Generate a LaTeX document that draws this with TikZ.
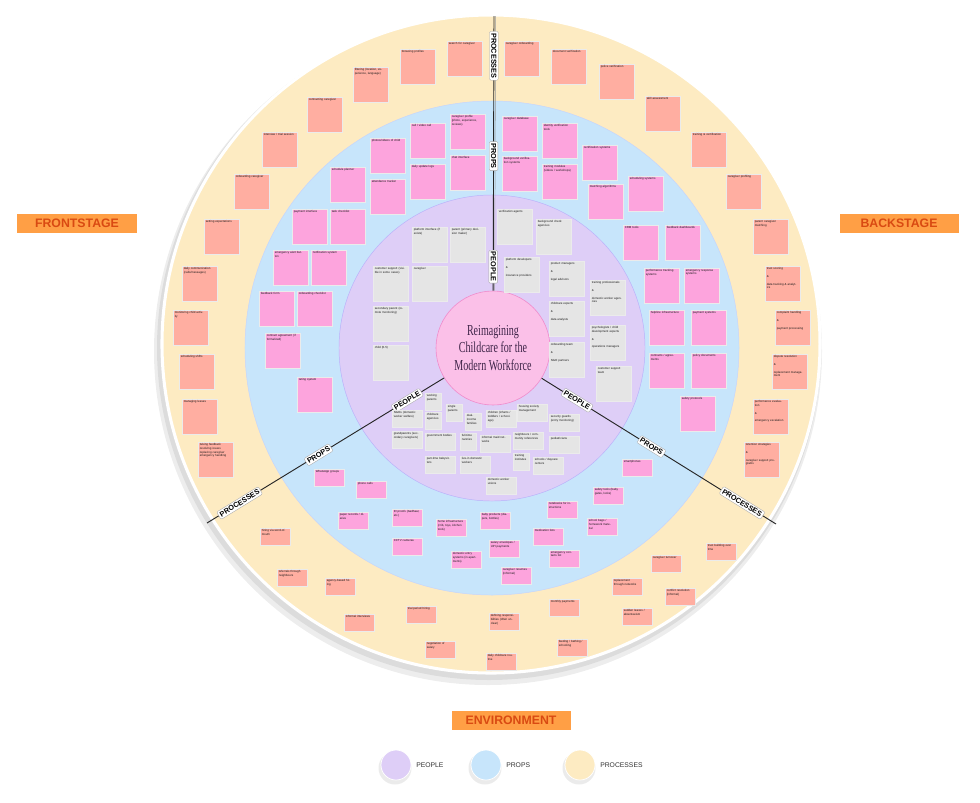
\documentclass[tikz,border=0pt]{standalone}
\usepackage{fontspec}
\setmainfont{Liberation Sans}
\setsansfont{Liberation Sans}
\newfontfamily\titlefont[FakeStretch=0.66]{Liberation Serif}
\usepackage{xcolor}
\usetikzlibrary{positioning}
\definecolor{ringproc}{RGB}{253,235,194}
\definecolor{ringprops}{RGB}{199,229,251}
\definecolor{ringpeople}{RGB}{222,206,247}
\definecolor{hubpink}{RGB}{251,192,232}
\definecolor{hubedge}{RGB}{240,138,203}
\definecolor{procnote}{RGB}{255,174,161}
\definecolor{propsnote}{RGB}{253,164,221}
\definecolor{peoplenote}{RGB}{229,229,229}
\definecolor{stagefill}{RGB}{255,159,69}
\definecolor{stagetext}{RGB}{217,74,18}
\definecolor{titleplum}{RGB}{62,36,72}

\tikzset{
  ring/.style={circle, inner sep=0pt},
  sticky/.style={draw=black!8, line width=0.15pt, anchor=north west, inner sep=0pt},
  bignote/.style={sticky, minimum width=1.05cm, minimum height=1.05cm},
  smallnote/.style={sticky, minimum width=0.9cm, minimum height=0.52cm},
  tinynote/.style={sticky, minimum width=0.48cm, minimum height=0.5cm},
  notetext/.style={anchor=north west, inner sep=1.3pt, align=left, text=black!90,
    font=\sffamily\fontsize{2.5}{3.1}\selectfont},
  axislabel/.style={draw=black!35, fill=white, line width=0.3pt, rounded corners=1pt,
    inner sep=1.5pt, font=\sffamily\bfseries\fontsize{6.2}{6.2}\selectfont},
  divider/.style={draw=black!85, line width=0.8pt},
  stagebox/.style={fill=stagefill, text=stagetext, minimum width=3.57cm, minimum height=0.57cm,
    inner sep=0pt, font=\sffamily\bfseries\fontsize{10.5}{10.5}\selectfont},
  legenddot/.style={circle, minimum size=0.9cm, inner sep=0pt, draw=white, line width=0.6pt},
  legendtext/.style={inner sep=0pt, text=black!80, font=\sffamily\fontsize{5.8}{5.8}\selectfont}
}

\begin{document}
\begin{tikzpicture}[x=0.03cm, y=-0.03cm]
  \useasboundingbox (0,0) rectangle (980,802);

  % rings
  \fill[black, opacity=0.07] (488,351) circle (334);
  \fill[black, opacity=0.07] (489,348) circle (332);
  \node[ring, fill=ringproc, draw=white, line width=2.6pt, minimum size=19.74cm] (procring) at (491,344) {};
  \node[ring, fill=ringprops, draw=ringprops!80!blue!60, line width=0.4pt, minimum size=14.82cm] (propsring) at (492,348) {};
  \node[ring, fill=ringpeople, draw=ringpeople!70!blue!70, line width=0.4pt, minimum size=9.18cm] (peoplering) at (492,348) {};
  \node[ring, fill=hubpink, draw=hubedge, line width=0.5pt, minimum size=3.42cm, align=center,
    text=titleplum, font=\titlefont\fontsize{13}{15}\selectfont] (hub) at (493,348)
    {Reimagining\\Childcare for the\\Modern Workforce};

  % dividers
  \coordinate (endT) at (494,16);
  \coordinate (endL) at (207,523);
  \coordinate (endR) at (776,524);
  \draw[divider] (hub) -- (endT);
  \draw[draw=black!40, line width=0.4pt] ([xshift=1.4pt]hub.north) -- ([xshift=1.4pt]endT);
  \draw[divider] (hub) -- (endL);
  \draw[divider] (hub) -- (endR);

  \path (hub.center) -- (endT)
    node[axislabel, pos=0.245, rotate=-90] (tpeople) {PEOPLE}
    node[axislabel, pos=0.578, rotate=-90] (tprops) {PROPS}
    node[axislabel, pos=0.88, rotate=-90] (tproc) {PROCESSES};
  \path (hub.center) -- (endL)
    node[axislabel, pos=0.3, rotate=31.5] (lpeople) {PEOPLE}
    node[axislabel, pos=0.61, rotate=31.5] (lprops) {PROPS}
    node[axislabel, pos=0.886, rotate=31.5] (lproc) {PROCESSES};
  \path (hub.center) -- (endR)
    node[axislabel, pos=0.297, rotate=-31.9] (rpeople) {PEOPLE}
    node[axislabel, pos=0.56, rotate=-31.9] (rprops) {PROPS}
    node[axislabel, pos=0.88, rotate=-31.9] (rproc) {PROCESSES};

  % processes, large notes
  \foreach \x/\y/\txt [count=\i] in {
      307/97/{contracting caregiver}, 262/132/{interview / trial session},
      234/174/{onboarding caregiver}, 204/219/{setting expectations},
      182/266/{daily communication (calls/messages)}, 173/310/{monitoring child activity},
      179/354/{scheduling shifts}, 182/399/{managing leaves},
      198/442/{Giving feedback\\resolving issues\\replacing caregiver\\emergency handling},
      353/67/{filtering (location, experience, language)}, 400/49/{browsing profiles},
      447/41/{search for caregiver}, 504/41/{caregiver onboarding},
      551/49/{document verification}, 599/64/{police verification},
      645/96/{skill assessment}, 691/132/{training \& certification},
      726/174/{caregiver profiling}, 753/219/{parent caregiver matching},
      765/266/{trust scoring\\[3.5pt]\&\\[3.5pt]data tracking \& analytics},
      775/310/{complaint handling\\[3.5pt]\&\\[3.5pt]payment processing},
      772/354/{dispute resolution\\[3.5pt]\&\\[3.5pt]replacement management},
      753/399/{performance evaluation\\[3.5pt]\&\\[3.5pt]emergency escalation},
      744/442/{retention strategies\\[3.5pt]\&\\[3.5pt]caregiver support programs}} {
    \node[bignote, fill=procnote] (pcb\i) at (\x,\y) {};
    \node[notetext, text width=0.9cm] at (pcb\i.north west) {\txt};
  }

  % processes, small notes
  \foreach \x/\y/\txt [count=\i] in {
      260/528/{hiring via word-of-mouth}, 277/569/{referrals through neighbours},
      325/578/{agency-based hiring}, 344/614/{informal interviews},
      406/606/{trial period hiring}, 425/641/{negotiation of salary},
      486/653/{daily childcare routine}, 489/613/{defining responsibilities (often unclear)},
      549/599/{monthly payments}, 557/639/{feeding / bathing / schooling},
      612/578/{replacement through networks}, 622/608/{sudden leaves / absenteeism},
      651/555/{caregiver turnover}, 665/588/{conflict resolution (informal)},
      706/543/{trust building over time}} {
    \node[smallnote, fill=procnote] (pcs\i) at (\x,\y) {};
    \node[notetext, text width=0.78cm] at (pcs\i.north west) {\txt};
  }

  % props, large notes
  \foreach \x/\y/\txt [count=\i] in {
      450/114/{caregiver profile (photo, experience, reviews)}, 410/123/{call / video call},
      370/138/{photos/videos of child}, 450/155/{chat interface},
      410/164/{daily update logs}, 370/179/{attendance tracker},
      330/167/{schedule planner}, 330/209/{task checklist},
      292/209/{payment interface}, 273/250/{emergency alert button},
      311/250/{notification system}, 259/291/{feedback form},
      297/291/{onboarding checklist}, 265/333/{contract agreement (if formalized)},
      297/377/{rating system}, 502/116/{caregiver database},
      542/123/{identity verification tools}, 582/145/{certification systems},
      502/156/{background verification systems}, 542/164/{training modules (videos / workshops)},
      588/184/{matching algorithms}, 628/176/{scheduling systems},
      623/225/{CRM tools}, 665/225/{feedback dashboards},
      644/268/{performance tracking systems}, 684/268/{emergency response systems},
      649/310/{helpline infrastructure}, 691/310/{payment systems},
      649/353/{contracts / agreements}, 691/353/{policy documents},
      680/396/{safety protocols}} {
    \node[bignote, fill=propsnote] (ppb\i) at (\x,\y) {};
    \node[notetext, text width=0.9cm] at (ppb\i.north west) {\txt};
  }

  % props, small notes
  \foreach \x/\y/\txt [count=\i] in {
      314/469/{WhatsApp groups}, 356/481/{phone calls},
      338/512/{paper records / diaries}, 392/509/{ID proofs (Aadhaar, etc.)},
      392/538/{CCTV cameras}, 436/519/{home infrastructure (crib, toys, kitchen tools)},
      451/551/{domestic entry systems (in apartments)}, 480/512/{baby products (diapers, bottles)},
      489/540/{salary envelopes / UPI payments}, 501/567/{caregiver resumes (informal)},
      547/501/{notebooks for instructions}, 533/528/{medication lists},
      549/550/{emergency contacts list}, 593/487/{safety tools (baby gates, locks)},
      587/518/{school bags / homework material}, 622/459/{smartphones}} {
    \node[smallnote, fill=propsnote] (pps\i) at (\x,\y) {};
    \node[notetext, text width=0.78cm] at (pps\i.north west) {\txt};
  }

  % people, large notes
  \foreach \x/\y/\txt [count=\i] in {
      412/227/{platform interface (if exists)}, 450/227/{parent (primary decision maker)},
      373/266/{customer support (visible in some cases)}, 412/266/{caregiver},
      373/306/{secondary parent (remote monitoring)}, 373/345/{child (0-5)},
      497/209/{verification agents}, 536/219/{background check agencies},
      504/257/{platform developers\\[3.5pt]\&\\[3.5pt]insurance providers},
      549/261/{product managers\\[3.5pt]\&\\[3.5pt]legal advisors},
      590/280/{training professionals\\[3.5pt]\&\\[3.5pt]domestic worker agencies},
      549/301/{childcare experts\\[3.5pt]\&\\[3.5pt]data analysts},
      590/325/{psychologists / child development experts\\[3.5pt]\&\\[3.5pt]operations managers},
      549/342/{onboarding team\\[3.5pt]\&\\[3.5pt]NGO partners},
      596/366/{customer support team}} {
    \node[bignote, fill=peoplenote] (pob\i) at (\x,\y) {};
    \node[notetext, text width=0.9cm] at (pob\i.north west) {\txt};
  }

  % people, small notes
  \foreach \x/\y/\txt [count=\i] in {
      392/410/{NGOs (domestic worker welfare)}, 486/410/{children (infants / toddlers / school-age)},
      392/431/{grandparents (secondary caregivers)}, 425/433/{government bodies},
      480/435/{informal maid networks}, 517/404/{housing society management},
      549/414/{security guards (entry monitoring)}, 513/432/{neighbours / community references},
      549/436/{pediatricians}, 425/456/{part-time babysitters},
      460/456/{live-in domestic workers}, 486/477/{domestic worker unions},
      533/457/{schools / daycare centers}} {
    \node[smallnote, fill=peoplenote] (pos\i) at (\x,\y) {};
    \node[notetext, text width=0.78cm] at (pos\i.north west) {\txt};
  }
  \foreach \x/\y/\txt [count=\i] in {
      425/393/{working parents}, 425/412/{childcare agencies},
      446/404/{single parents}, 465/413/{dual-income families},
      460/433/{full-time nannies}, 513/453/{training institutes}} {
    \node[tinynote, fill=peoplenote] (pot\i) at (\x,\y) {};
    \node[notetext, text width=0.4cm] at (pot\i.north west) {\txt};
  }

  % stage titles
  \node[stagebox] (front) at (77,223) {FRONTSTAGE};
  \node[stagebox] (back) at (899,223) {BACKSTAGE};
  \node[stagebox] (env) at (511,720) {ENVIRONMENT};

  % legend
  \foreach \cx in {396,486,580}
    \fill[black, opacity=0.08] (\cx-1,768) circle (16.5);
  \node[legenddot, fill=ringpeople] (lgpeople) at (396,765) {};
  \node[legendtext, right=4pt of lgpeople] (lgpeopletxt) {PEOPLE};
  \node[legenddot, fill=ringprops] (lgprops) at (486,765) {};
  \node[legendtext, right=4pt of lgprops] (lgpropstxt) {PROPS};
  \node[legenddot, fill=ringproc] (lgproc) at (580,765) {};
  \node[legendtext, right=4pt of lgproc] (lgproctxt) {PROCESSES};
\end{tikzpicture}
\end{document}
